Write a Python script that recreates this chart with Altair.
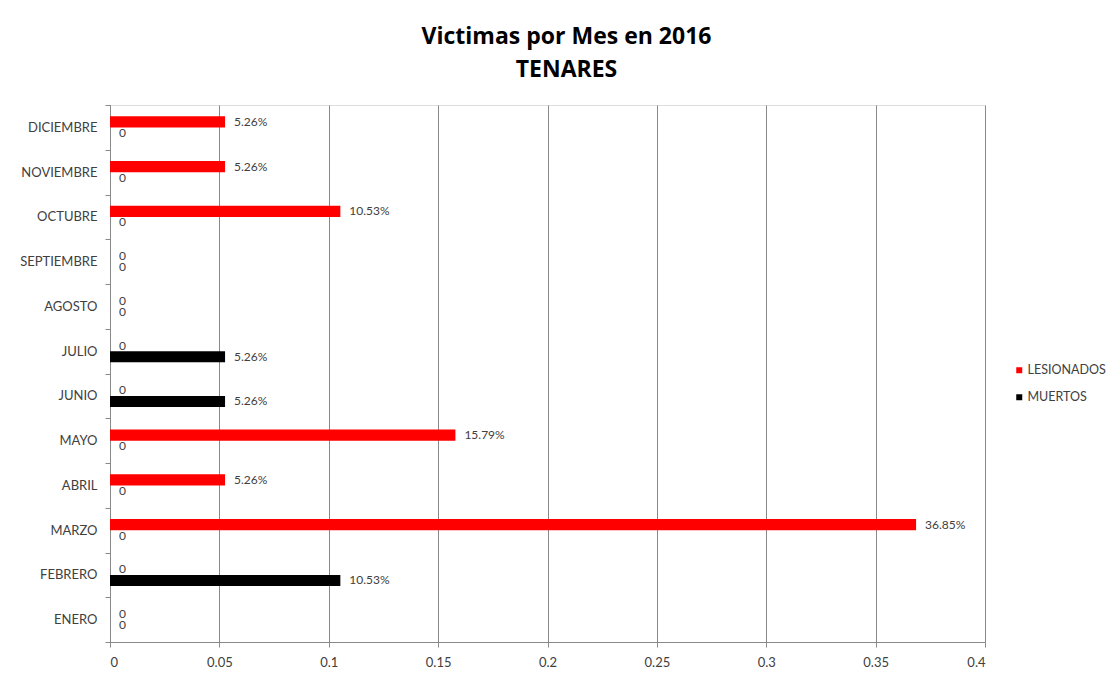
import altair as alt
import pandas as pd

months = ["ENERO", "FEBRERO", "MARZO", "ABRIL", "MAYO", "JUNIO", "JULIO",
          "AGOSTO", "SEPTIEMBRE", "OCTUBRE", "NOVIEMBRE", "DICIEMBRE"]
series = ["LESIONADOS", "MUERTOS"]
colors = ["#FF0000", "#000000"]

lesionados = [0, 0, 0.3685, 0.0526, 0.1579, 0, 0, 0, 0, 0.1053, 0.0526, 0.0526]
muertos = [0, 0.1053, 0, 0, 0, 0.0526, 0.0526, 0, 0, 0, 0, 0]
lesionados_lbl = ["0", "0", "36.85%", "5.26%", "15.79%", "0", "0", "0", "0", "10.53%", "5.26%", "5.26%"]
muertos_lbl = ["0", "10.53%", "0", "0", "0", "5.26%", "5.26%", "0", "0", "0", "0", "0"]
x_ticks = [0, 0.05, 0.1, 0.15, 0.2, 0.25, 0.3, 0.35, 0.4]

rows = []
for i, m in enumerate(months):
    rows.append({"mes": m, "serie": series[0], "valor": lesionados[i], "etiqueta": lesionados_lbl[i]})
    rows.append({"mes": m, "serie": series[1], "valor": muertos[i], "etiqueta": muertos_lbl[i]})
df = pd.DataFrame(rows)

FONT = "Lato"
GRAY = "#898989"
TXT = "#404040"

y_enc = alt.Y(
    "mes:N",
    sort=months[::-1],
    scale=alt.Scale(paddingInner=0, paddingOuter=0),
    axis=alt.Axis(
        title=None, ticks=True, tickBand="extent", tickSize=5, tickColor=GRAY,
        labelPadding=8, domainColor=GRAY, labelFontSize=13, labelColor=TXT,
        labelFont=FONT, grid=False,
    ),
)
yoff_enc = alt.YOffset("serie:N", sort=series,
                       scale=alt.Scale(paddingInner=0, paddingOuter=alt.ExprRef("1.24")))
x_enc = alt.X(
    "valor:Q",
    scale=alt.Scale(domain=[0, 0.4], nice=False),
    axis=alt.Axis(
        title=None, values=x_ticks, format="~g", grid=True, gridColor=GRAY,
        tickColor=GRAY, domainColor=GRAY, tickSize=5, labelPadding=9,
        labelFontSize=13, labelColor=TXT, labelFont=FONT,
    ),
)

base = alt.Chart(df)

bars = base.mark_bar().encode(
    x=x_enc,
    y=y_enc,
    yOffset=yoff_enc,
    color=alt.Color(
        "serie:N",
        scale=alt.Scale(domain=series, range=colors),
        legend=alt.Legend(
            title=None, orient="none", legendX=903, legendY=259,
            symbolType="square", symbolSize=36, symbolStrokeWidth=0,
            labelFontSize=12.5, labelColor=TXT, labelFont=FONT,
            rowPadding=14, padding=0, labelOffset=2,
        ),
    ),
)

labels = base.mark_text(
    align="left", baseline="middle", dx=9, fontSize=12, color=TXT, font=FONT
).encode(
    x="valor:Q",
    y=alt.Y("mes:N", sort=months[::-1]),
    yOffset=alt.YOffset("serie:N", sort=series),
    text="etiqueta:N",
)

chart = (
    alt.layer(bars, labels)
    .properties(
        width=875,
        height=537,
        autosize=alt.AutoSizeParams(type="none"),
        padding={"left": 102, "top": 97, "right": 124, "bottom": 29},
        title=alt.Title(
            ["Victimas por Mes en 2016", "TENARES"],
            font="Open Sans", fontSize=23, fontWeight="bold", color="#000000",
            anchor="middle", frame="group", dx=19, offset=17, lineHeight=33,
        ),
    )
    .configure_view(stroke=None)
    .configure(background="white")
)

chart.save("out.html", embed_options={"renderer": "svg", "actions": False})
